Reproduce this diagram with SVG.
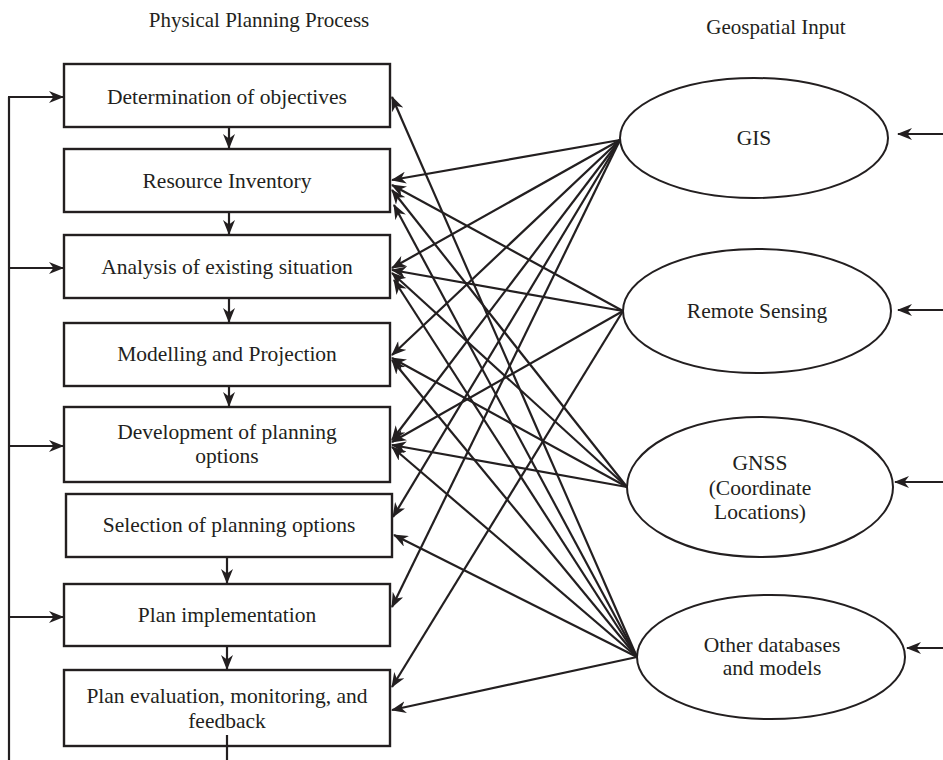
<svg xmlns="http://www.w3.org/2000/svg" width="943" height="760" viewBox="0 0 943 760">
<style>
.box{fill:#fff;stroke:#231f20;stroke-width:2.4}
.ell{fill:#fff;stroke:#231f20;stroke-width:2}
.t{font-family:"Liberation Serif","Times New Roman",serif;font-size:21.5px;fill:#231f20;text-anchor:middle}
.ttl{font-family:"Liberation Serif","Times New Roman",serif;font-size:21px;fill:#231f20;text-anchor:middle}
.c line,.c path{stroke:#231f20;stroke-width:2.2;fill:none}
.a{marker-end:url(#ah)}
</style>
<defs>
<marker id="ah" markerWidth="15" markerHeight="12" refX="14" refY="6" orient="auto" markerUnits="userSpaceOnUse"><path d="M0,0 L15,6 L0,12 L4.5,6 z" fill="#231f20"/></marker>
</defs>
<text class="ttl" x="259" y="27">Physical Planning Process</text>
<text class="ttl" x="776" y="34">Geospatial Input</text>

<g id="n1"><rect class="box" x="64" y="64" width="326" height="63"/><text class="t" x="227" y="104">Determination of objectives</text></g>
<g id="n2"><rect class="box" x="64" y="149" width="326" height="63"/><text class="t" x="227" y="188">Resource Inventory</text></g>
<g id="n3"><rect class="box" x="64" y="235" width="326" height="63"/><text class="t" x="227" y="274">Analysis of existing situation</text></g>
<g id="n4"><rect class="box" x="64" y="323" width="326" height="63"/><text class="t" x="227" y="361">Modelling and Projection</text></g>
<g id="n5"><rect class="box" x="64" y="407" width="326" height="75"/><text class="t" x="227" y="439">Development of planning</text><text class="t" x="227" y="463">options</text></g>
<g id="n6"><rect class="box" x="66" y="494" width="326" height="63"/><text class="t" x="229" y="532">Selection of planning options</text></g>
<g id="n7"><rect class="box" x="64" y="584" width="326" height="62"/><text class="t" x="227" y="622">Plan implementation</text></g>
<g id="n8"><rect class="box" x="64" y="670" width="326" height="76"/><text class="t" x="227" y="703">Plan evaluation, monitoring, and</text><text class="t" x="227" y="728">feedback</text></g>

<g id="e1"><ellipse class="ell" cx="754" cy="138" rx="134" ry="60"/><text class="t" x="754" y="145">GIS</text></g>
<g id="e2"><ellipse class="ell" cx="757" cy="311" rx="134" ry="62"/><text class="t" x="757" y="318">Remote Sensing</text></g>
<g id="e3"><ellipse class="ell" cx="760" cy="487" rx="133" ry="70"/><text class="t" x="760" y="470">GNSS</text><text class="t" x="760" y="495">(Coordinate</text><text class="t" x="760" y="519">Locations)</text></g>
<g id="e4"><ellipse class="ell" cx="771" cy="657" rx="134" ry="62"/><text class="t" x="772" y="652">Other databases</text><text class="t" x="772" y="675">and models</text></g>

<g id="connectors" class="c">
<line x1="9" y1="97" x2="9" y2="760"/>
<line class="a" x1="8" y1="97" x2="63" y2="97"/>
<line class="a" x1="9" y1="268" x2="63" y2="268"/>
<line class="a" x1="9" y1="446" x2="63" y2="446"/>
<line class="a" x1="9" y1="617" x2="63" y2="617"/>
<line x1="227" y1="735" x2="227" y2="760"/>
<line class="a" x1="229" y1="127" x2="229" y2="148"/>
<line class="a" x1="229" y1="212" x2="229" y2="234"/>
<line class="a" x1="229" y1="298" x2="229" y2="322"/>
<line class="a" x1="229" y1="386" x2="229" y2="406"/>
<line class="a" x1="227" y1="557" x2="227" y2="583"/>
<line class="a" x1="227" y1="646" x2="227" y2="669"/>
<line class="a" x1="943" y1="134" x2="898" y2="134"/>
<line class="a" x1="943" y1="310" x2="898" y2="310"/>
<line class="a" x1="943" y1="482" x2="895" y2="482"/>
<line class="a" x1="943" y1="648" x2="907" y2="648"/>
<line class="a" x1="620" y1="140" x2="392" y2="180"/>
<line class="a" x1="620" y1="140" x2="392" y2="268"/>
<line class="a" x1="620" y1="140" x2="392" y2="355"/>
<line class="a" x1="620" y1="140" x2="392" y2="440"/>
<line class="a" x1="620" y1="140" x2="393" y2="517"/>
<line class="a" x1="620" y1="140" x2="392" y2="607"/>
<line class="a" x1="623" y1="311" x2="392" y2="185"/>
<line class="a" x1="623" y1="311" x2="392" y2="270"/>
<line class="a" x1="623" y1="311" x2="392" y2="442"/>
<line class="a" x1="623" y1="311" x2="392" y2="687"/>
<line class="a" x1="627" y1="487" x2="392" y2="190"/>
<line class="a" x1="627" y1="487" x2="392" y2="273"/>
<line class="a" x1="627" y1="487" x2="392" y2="358"/>
<line class="a" x1="627" y1="487" x2="392" y2="445"/>
<line class="a" x1="637" y1="657" x2="392" y2="97"/>
<line class="a" x1="637" y1="657" x2="394" y2="205"/>
<line class="a" x1="637" y1="657" x2="394" y2="280"/>
<line class="a" x1="637" y1="657" x2="392" y2="360"/>
<line class="a" x1="637" y1="657" x2="392" y2="447"/>
<line class="a" x1="637" y1="657" x2="394" y2="535"/>
<line class="a" x1="637" y1="657" x2="392" y2="710"/>
</g>
</svg>
